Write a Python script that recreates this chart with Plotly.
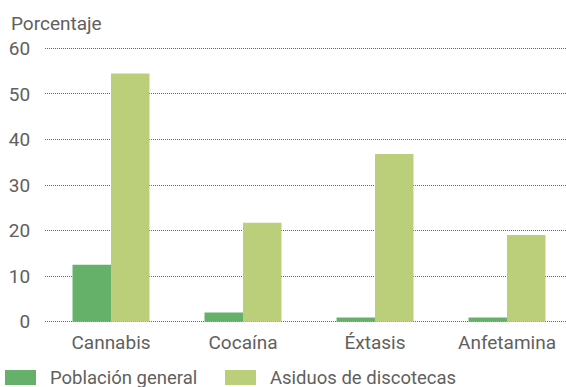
import plotly.graph_objects as go

categories = ["Cannabis", "Cocaína", "Éxtasis", "Anfetamina"]
series_names = ["Población general", "Asiduos de discotecas"]
poblacion_general = [12.5, 2.0, 0.9, 0.9]
asiduos_discotecas = [54.5, 21.7, 36.8, 19.0]
y_ticks = [0, 10, 20, 30, 40, 50, 60]
colors = ["#66b16a", "#bbce7a"]

FONT = "Roboto, Arial, sans-serif"
TXT = "#606060"
FS = 19

L, T, B = 45, 47, 64
PW, PH = 566 - L, 387 - T - B

fig = go.Figure()
fig.add_trace(go.Bar(x=categories, y=poblacion_general, name=series_names[0],
                     marker=dict(color=colors[0], line=dict(width=0)), showlegend=False))
fig.add_trace(go.Bar(x=categories, y=asiduos_discotecas, name=series_names[1],
                     marker=dict(color=colors[1], line=dict(width=0)), showlegend=False))

fig.update_layout(
    width=566, height=387,
    margin=dict(l=L, r=0, t=T, b=B, autoexpand=False),
    paper_bgcolor="white", plot_bgcolor="white",
    barmode="group", bargap=0.417, bargroupgap=0,
    font=dict(family=FONT, size=FS, color=TXT),
    xaxis=dict(range=[-0.5, 3.447], showgrid=False, showline=False, zeroline=False,
               ticks="outside", ticklen=2, tickcolor="rgba(0,0,0,0)", automargin=False,
               tickfont=dict(size=FS, color=TXT)),
    yaxis=dict(range=[-0.3, 60.3], tickvals=y_ticks, showgrid=True, gridcolor="#666666",
               griddash="1px,1px", gridwidth=1, zeroline=False, showline=False,
               ticks="outside", ticklen=10, tickcolor="rgba(0,0,0,0)", automargin=False,
               tickfont=dict(size=FS, color=TXT)),
)

fig.add_annotation(text="Porcentaje", xref="paper", yref="paper", x=-(L - 9) / PW, y=1,
                   xanchor="left", yanchor="bottom", yshift=10, showarrow=False,
                   font=dict(size=FS, color=TXT))

# legend drawn manually at bottom
leg_x = [5, 225]
for i, name in enumerate(series_names):
    fig.add_shape(type="rect", xref="paper", yref="paper",
                  x0=(leg_x[i] - L) / PW, x1=(leg_x[i] + 31 - L) / PW,
                  y0=(T + PH - 385) / PH, y1=(T + PH - 370) / PH,
                  fillcolor=colors[i], line=dict(width=0))
    fig.add_annotation(text=name, xref="paper", yref="paper",
                       x=(leg_x[i] + 43 - L) / PW, y=(T + PH - 378) / PH,
                       xanchor="left", yanchor="middle", showarrow=False,
                       font=dict(size=18.5, color=TXT))

fig.write_html("out.html", config={"displayModeBar": False},
               post_script="document.body.style.margin='0';document.body.style.overflow='hidden';")
